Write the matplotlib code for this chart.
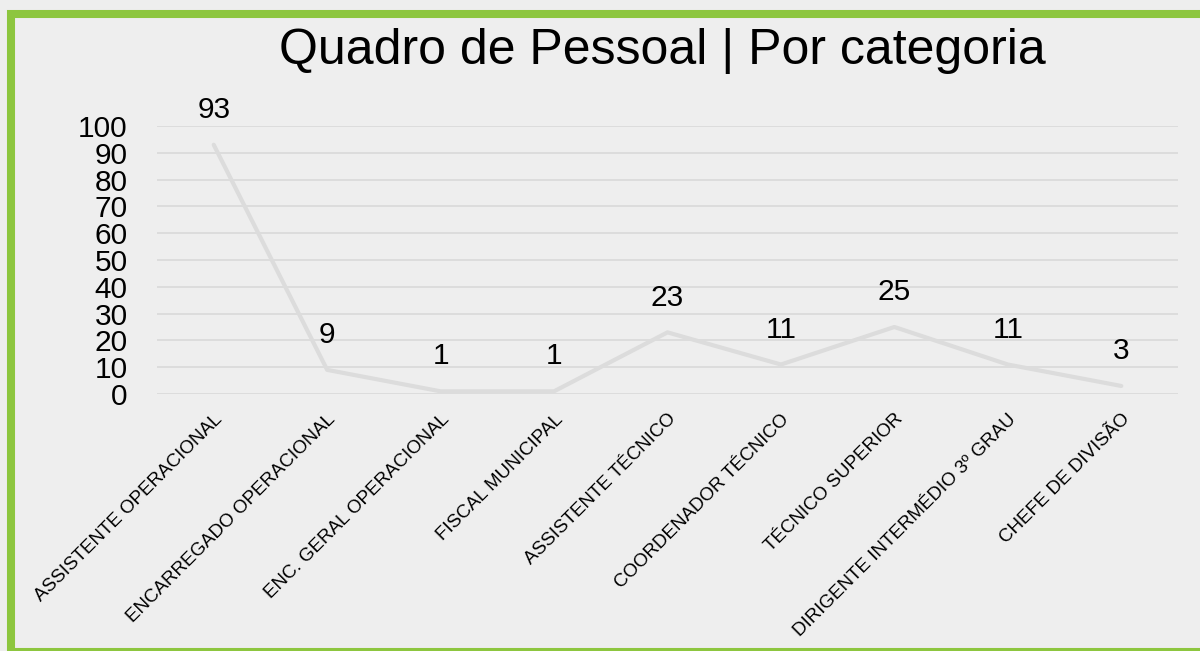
import matplotlib.pyplot as plt
from matplotlib.patches import Rectangle

categories = [
    "ASSISTENTE OPERACIONAL",
    "ENCARREGADO OPERACIONAL",
    "ENC. GERAL OPERACIONAL",
    "FISCAL MUNICIPAL",
    "ASSISTENTE TÉCNICO",
    "COORDENADOR TÉCNICO",
    "TÉCNICO SUPERIOR",
    "DIRIGENTE INTERMÉDIO 3º GRAU",
    "CHEFE DE DIVISÃO",
]
values = [93, 9, 1, 1, 23, 11, 25, 11, 3]
yticks = [0, 10, 20, 30, 40, 50, 60, 70, 80, 90, 100]

W, H = 1200, 651
bg = '#eeeeee'
green = '#8dc63f'
grid_c = '#d9d9d9'

plt.rcParams['font.family'] = ['Liberation Sans', 'DejaVu Sans']

fig = plt.figure(figsize=(W / 100, H / 100), dpi=100, facecolor=bg)
ax = fig.add_axes([157 / W, 1 - 394 / H, (1178 - 157) / W, (394 - 126) / H])
ax.set_facecolor(bg)

x = list(range(len(categories)))
ax.plot(x, values, color='#dcdcdc', lw=3, solid_capstyle='round',
        solid_joinstyle='round', zorder=3)

for xi, v in zip(x, values):
    ax.annotate(str(v), (xi, v), xytext=(0, 15), textcoords='offset points',
                ha='center', va='bottom', fontsize=21.5, color='black')

ax.set_xlim(-0.5, len(categories) - 0.5)
ax.set_ylim(0, 100)
ax.set_yticks(yticks)
ax.set_yticklabels([str(t) for t in yticks], fontsize=21.5)
ax.set_xticks(x)
ax.set_xticklabels(categories, rotation=45, ha='right', rotation_mode='anchor',
                   fontsize=13.5)
ax.tick_params(axis='both', length=0)
ax.tick_params(axis='y', pad=21)
ax.tick_params(axis='x', pad=12)
ax.grid(axis='y', color=grid_c, lw=1.2)
ax.set_axisbelow(True)
for s in ax.spines.values():
    s.set_visible(False)

fig.text(662 / W, 1 - 64 / H, "Quadro de Pessoal | Por categoria",
         ha='center', va='baseline', fontsize=36, color='black')

# green frame (right and bottom edges run off the picture)
fig.patches.append(Rectangle((11 / W, 1 - 652 / H), 1200 / W, (652 - 13.5) / H,
                             transform=fig.transFigure, fill=False,
                             edgecolor=green, lw=5.8, zorder=10))

fig.savefig('out.png', dpi=100, facecolor=bg)
